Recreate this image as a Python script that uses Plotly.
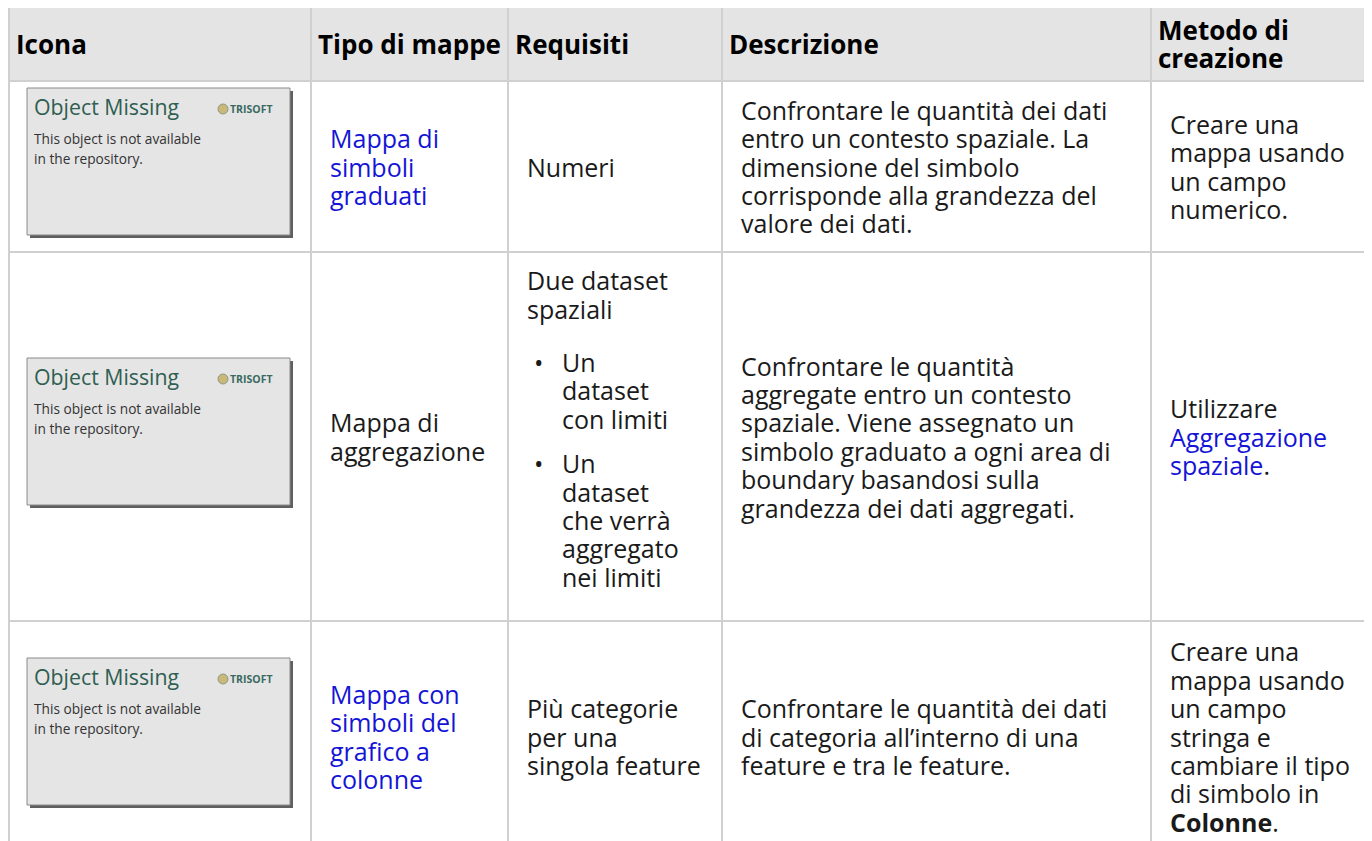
import plotly.graph_objects as go

# ---------------- table content ----------------
headers = [["Icona"], ["Tipo di mappe"], ["Requisiti"], ["Descrizione"], ["Metodo di", "creazione"]]

icon_title = "Object Missing"
icon_brand = "TRISOFT"
icon_message = ["This object is not available", "in the repository."]

map_types = [
    ["Mappa di", "simboli", "graduati"],
    ["Mappa di", "aggregazione"],
    ["Mappa con", "simboli del", "grafico a", "colonne"],
]
map_type_is_link = [True, False, True]

requirements = [
    [("p", ["Numeri"])],
    [("p", ["Due dataset", "spaziali"]),
     ("li", ["Un", "dataset", "con limiti"]),
     ("li", ["Un", "dataset", "che verrà", "aggregato", "nei limiti"])],
    [("p", ["Più categorie", "per una", "singola feature"])],
]

descriptions = [
    ["Confrontare le quantità dei dati", "entro un contesto spaziale. La", "dimensione del simbolo",
     "corrisponde alla grandezza del", "valore dei dati."],
    ["Confrontare le quantità", "aggregate entro un contesto", "spaziale. Viene assegnato un",
     "simbolo graduato a ogni area di", "boundary basandosi sulla", "grandezza dei dati aggregati."],
    ["Confrontare le quantità dei dati", "di categoria all’interno di una", "feature e tra le feature."],
]

LINK = "#1414d6"


def link(s):
    return f'<span style="color:{LINK}">{s}</span>'


methods = [
    ["Creare una", "mappa usando", "un campo", "numerico."],
    ["Utilizzare", link("Aggregazione"), link("spaziale") + "."],
    ["Creare una", "mappa usando", "un campo", "stringa e", "cambiare il tipo", "di simbolo in", "<b>Colonne</b>."],
]

# ---------------- geometry / style ----------------
W, H = 1372, 841
OFF = 8  # page body margin: data coordinates = page pixels
col_edges = [9, 311, 508, 722, 1151, 1369]
row_edges = [7, 81, 252, 621, 852]
GRID = "#d0d0d0"
HEAD_BG = "#e4e4e4"
TEXT = "#1a1a1a"
FONT = "Open Sans"
BODY = 25
HEAD = 26
LINE = 28.4
GAP_P_LI = 25
GAP_LI_LI = 16
PAD_X = 19
HEAD_PAD_X = 7
BOX_W, BOX_H = 263, 147

fig = go.Figure()
shapes = []
annotations = []


def text(x, y, s, size=BODY, color=TEXT, anchor="left"):
    annotations.append(dict(x=x, y=y, xref="x", yref="y", text=s, showarrow=False,
                            xanchor=anchor, yanchor="middle", align="left",
                            borderpad=0, borderwidth=0,
                            font=dict(family=FONT, size=size, color=color)))


# header background
shapes.append(dict(type="rect", x0=col_edges[0], x1=col_edges[-1], y0=row_edges[0], y1=row_edges[1],
                   fillcolor=HEAD_BG, line=dict(width=0), layer="below"))

# header texts
hc = (row_edges[0] + row_edges[1]) / 2
for ci, lines in enumerate(headers):
    n = len(lines)
    for li, s in enumerate(lines):
        y = hc + (li - (n - 1) / 2) * LINE
        text(col_edges[ci] + HEAD_PAD_X, y, f"<b>{s}</b>", size=HEAD, color="#000000")


def layout_blocks(blocks):
    items = []
    y = 0.0
    prev = None
    for kind, lines in blocks:
        if prev is not None:
            y += LINE + (GAP_P_LI if prev == "p" else GAP_LI_LI)
        for li, s in enumerate(lines):
            if li > 0:
                y += LINE
            items.append((y, s, kind == "li" and li == 0, kind))
        prev = kind
    trailing = GAP_LI_LI if prev == "li" else 0
    return items, y, trailing


def place_cell(ci, ri, blocks):
    top, bot = row_edges[ri + 1], row_edges[ri + 2]
    rc = (top + bot) / 2
    items, span, trailing = layout_blocks(blocks)
    start = rc - (span + trailing) / 2
    x0 = col_edges[ci] + PAD_X
    for off, s, bullet, kind in items:
        y = start + off
        if kind == "li":
            if bullet:
                text(x0 + 11, y, "•", color=TEXT, anchor="center")
            text(x0 + 35, y, s)
        else:
            text(x0, y, s)


for ri in range(3):
    # icon placeholder
    top, bot = row_edges[ri + 1], row_edges[ri + 2]
    bc = (top + bot) / 2 - 5
    bx0 = col_edges[0] + 18
    by0 = bc - BOX_H / 2
    shapes.append(dict(type="rect", x0=bx0 + 3, x1=bx0 + BOX_W + 3, y0=by0 + 3, y1=by0 + BOX_H + 3,
                       fillcolor="#5f5f5f", line=dict(width=0)))
    shapes.append(dict(type="rect", x0=bx0, x1=bx0 + BOX_W, y0=by0, y1=by0 + BOX_H,
                       fillcolor="#e5e5e5", line=dict(color="#8a8a8a", width=1)))
    text(bx0 + 7, by0 + 18, icon_title, size=21.3, color="#2f5e52")
    shapes.append(dict(type="circle", x0=bx0 + 191, x1=bx0 + 201, y0=by0 + 16, y1=by0 + 26,
                       fillcolor="#c9b878", line=dict(color="#8c9a8a", width=1)))
    text(bx0 + 203, by0 + 21, f"<b>{icon_brand}</b>", size=10.5, color="#3a6a62")
    for k, s in enumerate(icon_message):
        text(bx0 + 7, by0 + 50 + 20 * k, s, size=13.7, color="#333333")

    mt = [link(s) if map_type_is_link[ri] else s for s in map_types[ri]]
    place_cell(1, ri, [("p", mt)])
    place_cell(2, ri, requirements[ri])
    place_cell(3, ri, [("p", descriptions[ri])])
    place_cell(4, ri, [("p", methods[ri])])

# grid lines
for y in row_edges[:-1]:
    shapes.append(dict(type="line", x0=col_edges[0], x1=col_edges[-1], y0=y, y1=y,
                       line=dict(color=GRID, width=2)))
for x in col_edges:
    shapes.append(dict(type="line", x0=x, x1=x, y0=row_edges[0], y1=H + 40,
                       line=dict(color=GRID, width=2)))

fig.update_layout(
    width=W, height=H,
    margin=dict(l=0, r=0, t=0, b=0),
    paper_bgcolor="white", plot_bgcolor="white",
    xaxis=dict(range=[OFF, W + OFF], visible=False, fixedrange=True),
    yaxis=dict(range=[H + OFF, OFF], visible=False, fixedrange=True),
    shapes=shapes, annotations=annotations, showlegend=False,
)

fig.write_html("out.html", config={"displayModeBar": False})
